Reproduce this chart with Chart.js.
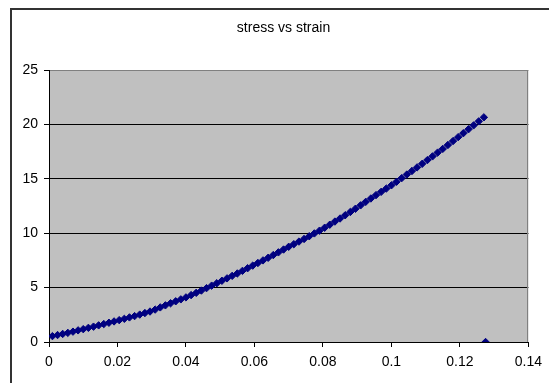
<!DOCTYPE html>
<html>
<head>
<meta charset="utf-8">
<script src="https://cdn.jsdelivr.net/npm/chart.js@4/dist/chart.umd.min.js"></script>
<style>
  html, body { margin: 0; padding: 0; background: #fff; overflow: hidden; }
  #wrap { position: relative; width: 549px; height: 383px; }
  #frame { position: absolute; left: 10px; top: 8px; width: 600px; height: 420px; border: 2px solid #333; box-sizing: border-box; }
  canvas { position: absolute; left: 0; top: 0; }
</style>
</head>
<body>
<div id="wrap">
  <div id="frame"></div>
  <canvas id="c" width="549" height="383"></canvas>
</div>
<script>
const chartTitle = 'stress vs strain';

const strain = [
  0.001, 0.0025, 0.004, 0.0055, 0.007, 0.0085, 0.010, 0.0115, 0.013, 0.0145,
  0.016, 0.0175, 0.019, 0.0205, 0.022, 0.0235, 0.025, 0.0265, 0.028, 0.0295,
  0.031, 0.0325, 0.034, 0.0355, 0.037, 0.0385, 0.040, 0.0415, 0.043, 0.0445,
  0.046, 0.0475, 0.049, 0.0505, 0.052, 0.0535, 0.055, 0.0565, 0.058, 0.0595,
  0.061, 0.0625, 0.064, 0.0655, 0.067, 0.0685, 0.070, 0.0715, 0.073, 0.0745,
  0.076, 0.0775, 0.079, 0.0805, 0.082, 0.0835, 0.085, 0.0865, 0.088, 0.0895,
  0.091, 0.0925, 0.094, 0.0955, 0.097, 0.0985, 0.100, 0.1015, 0.103, 0.1045,
  0.106, 0.1075, 0.109, 0.1105, 0.112, 0.1135, 0.115, 0.1165, 0.118, 0.1195,
  0.121, 0.1225, 0.124, 0.1255, 0.127, 0.1275
];
const stress = [
  0.54, 0.64, 0.74, 0.84, 0.95, 1.07, 1.18, 1.30, 1.41, 1.53,
  1.65, 1.77, 1.89, 2.01, 2.13, 2.26, 2.38, 2.52, 2.66, 2.80,
  2.98, 3.18, 3.37, 3.56, 3.74, 3.92, 4.10, 4.31, 4.52, 4.73,
  4.95, 5.18, 5.40, 5.63, 5.85, 6.08, 6.30, 6.54, 6.78, 7.02,
  7.26, 7.50, 7.74, 7.99, 8.24, 8.50, 8.75, 8.99, 9.23, 9.47,
  9.72, 9.98, 10.23, 10.50, 10.78, 11.07, 11.35, 11.65, 11.95, 12.25,
  12.56, 12.88, 13.19, 13.50, 13.80, 14.10, 14.40, 14.73, 15.06, 15.39,
  15.72, 16.05, 16.38, 16.72, 17.06, 17.41, 17.75, 18.11, 18.47, 18.83,
  19.19, 19.55, 19.91, 20.28, 20.65, 0
];
const xTickLabels = ['0', '0.02', '0.04', '0.06', '0.08', '0.1', '0.12', '0.14'];
const yTickLabels = ['0', '5', '10', '15', '20', '25'];

const points = strain.map((x, i) => ({ x: x, y: stress[i] }));

const plotBg = {
  id: 'plotBg',
  beforeDraw(chart) {
    const a = chart.chartArea, ctx = chart.ctx;
    ctx.save();
    ctx.fillStyle = '#c0c0c0';
    ctx.fillRect(a.left, a.top, a.right - a.left, a.bottom - a.top);
    ctx.restore();
  },
  afterDatasetsDraw(chart) {
    const a = chart.chartArea, ctx = chart.ctx;
    ctx.save();
    ctx.strokeStyle = '#808080';
    ctx.lineWidth = 1;
    ctx.beginPath();
    ctx.moveTo(Math.round(a.right) - 0.5, a.top);
    ctx.lineTo(Math.round(a.right) - 0.5, a.bottom);
    ctx.stroke();
    ctx.restore();
  }
};

const font = { family: '"Liberation Sans", Arial, sans-serif', size: 14 };

new Chart(document.getElementById('c'), {
  type: 'scatter',
  data: {
    datasets: [{
      data: points,
      showLine: false,
      pointStyle: 'rectRot',
      pointRadius: 3.7,
      pointHoverRadius: 3.7,
      backgroundColor: '#000080',
      borderColor: '#000080',
      borderWidth: 1
    }]
  },
  options: {
    responsive: false,
    animation: false,
    events: [],
    layout: { padding: { left: 18, right: 0, top: 0, bottom: 0 } },
    plugins: {
      legend: { display: false },
      tooltip: { enabled: false },
      title: {
        display: true,
        text: chartTitle,
        color: '#000',
        font: { family: font.family, size: 14, weight: 'normal' },
        padding: { top: 20, bottom: 33.2 }
      }
    },
    scales: {
      x: {
        type: 'linear',
        position: 'bottom',
        min: 0, max: 0.14,
        ticks: {
          stepSize: 0.02,
          color: '#000',
          font: font,
          padding: 7,
          maxRotation: 0,
          callback: (v, i) => xTickLabels[i]
        },
        grid: { drawOnChartArea: false, drawTicks: true, tickLength: 5, tickColor: '#000' },
        border: { display: true, color: '#000', width: 1 },
        afterFit: s => { s.height = 41; }
      },
      y: {
        type: 'linear',
        position: 'left',
        min: 0, max: 25,
        ticks: {
          stepSize: 5,
          color: '#000',
          font: font,
          padding: 6,
          callback: (v, i) => yTickLabels[i]
        },
        grid: {
          color: c => (c.tick && c.tick.value === 25) ? '#808080' : '#000',
          lineWidth: 1,
          drawTicks: true,
          tickLength: 5,
          tickColor: '#000'
        },
        border: { display: true, color: '#000', width: 1 },
        afterFit: s => { s.width = 31; }
      },
      y2: {
        type: 'linear',
        position: 'right',
        display: true,
        ticks: { display: false },
        grid: { display: false, drawTicks: false },
        border: { display: false },
        afterFit: s => { s.width = 19; }
      }
    }
  },
  plugins: [plotBg]
});
</script>
</body>
</html>
